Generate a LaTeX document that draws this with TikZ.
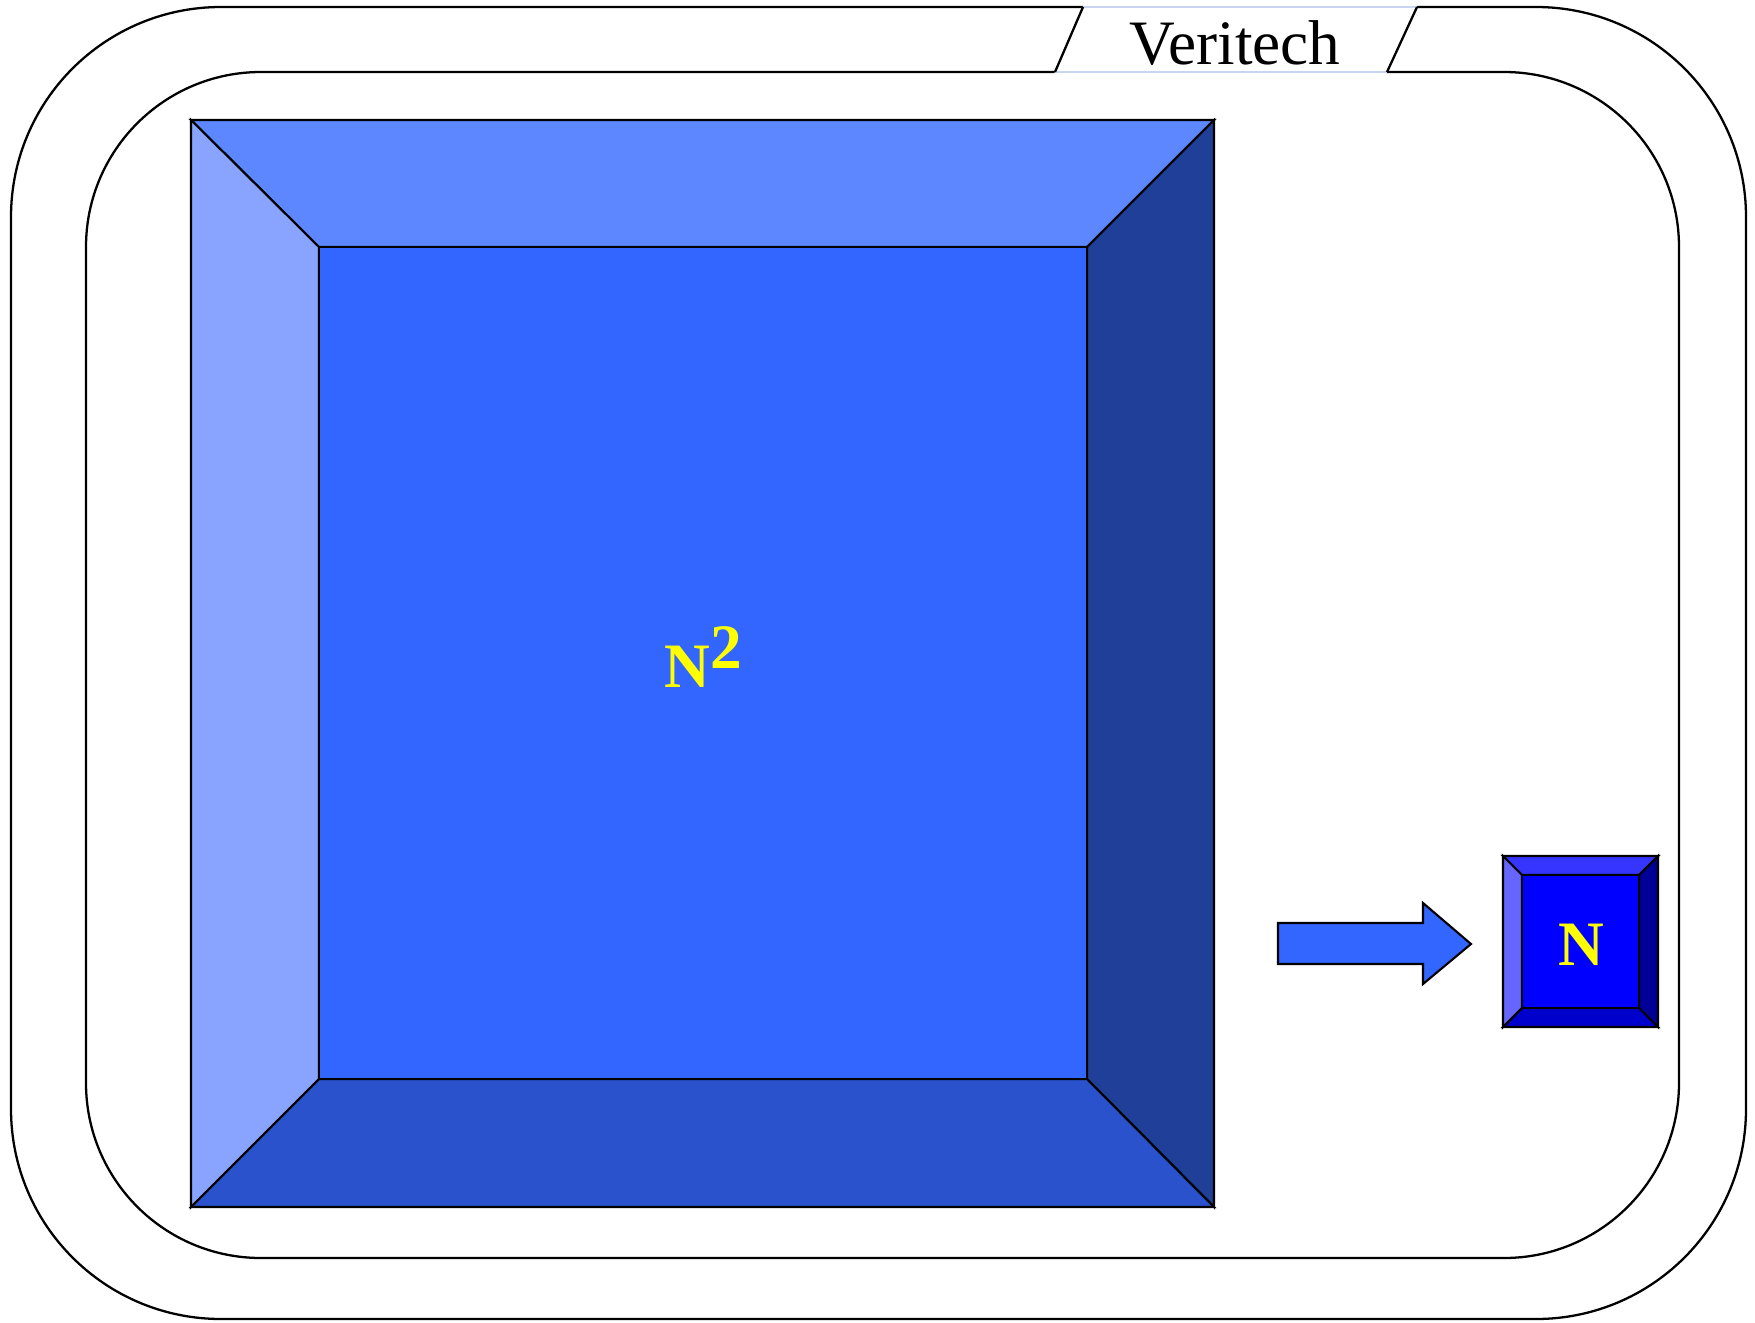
\documentclass[tikz,border=0pt]{standalone}
\usepackage{fontspec}
\setmainfont{Liberation Serif}
\usetikzlibrary{calc}
\definecolor{bigfront}{HTML}{3366FF}
\definecolor{bigtop}{HTML}{5C87FF}
\definecolor{bigleft}{HTML}{88A4FF}
\definecolor{bigright}{HTML}{1F3F99}
\definecolor{bigbottom}{HTML}{2952CC}
\definecolor{smallfront}{HTML}{0000FF}
\definecolor{smalltop}{HTML}{3535FF}
\definecolor{smallleft}{HTML}{6666FF}
\definecolor{smallright}{HTML}{000099}
\definecolor{smallbottom}{HTML}{0000CC}
\definecolor{label}{HTML}{FFFF00}
\definecolor{tabline}{HTML}{C8D4F0}
\tikzset{
  frame/.style={draw=black,line width=0.65pt},
  face/.style={draw=black,line width=0.6pt,line join=miter},
  biglabel/.style={font=\fontsize{18}{20}\selectfont\bfseries,text=label,anchor=base,inner sep=0pt},
  tabtext/.style={font=\fontsize{18}{20}\selectfont,anchor=base,inner sep=0pt},
}

\begin{document}
\begin{tikzpicture}[x=1cm,y=1cm]
\useasboundingbox (0,0) rectangle (17.55,-13.22);

% Frames
\draw[frame,rounded corners=21mm] (0.11,-0.07) rectangle (17.46,-13.19);
\draw[frame,rounded corners=17.5mm] (0.86,-0.72) rectangle (16.79,-12.58);

% Title tab
\coordinate (tabNW) at (10.84,-0.04);
\coordinate (tabNE) at (14.18,-0.04);
\coordinate (tabSE) at (13.86,-0.74);
\coordinate (tabSW) at (10.54,-0.74);
\fill[white] (tabNW) -- (tabNE) -- (tabSE) -- (tabSW) -- cycle;
\draw[tabline,line width=0.4pt] (10.83,-0.07) -- (14.17,-0.07);
\draw[tabline,line width=0.4pt] (10.55,-0.72) -- (13.87,-0.72);
\draw[frame] (10.83,-0.07) -- (10.55,-0.72);
\draw[frame] (14.17,-0.07) -- (13.87,-0.72);
\node[tabtext] (title) at (12.35,-0.65) {Veritech};

% Big bevelled square
\coordinate (bigNW) at (1.91,-1.20);
\coordinate (bigNE) at (12.14,-1.20);
\coordinate (bigSE) at (12.14,-12.07);
\coordinate (bigSW) at (1.91,-12.07);
\coordinate (inNW) at (3.19,-2.47);
\coordinate (inNE) at (10.87,-2.47);
\coordinate (inSE) at (10.87,-10.79);
\coordinate (inSW) at (3.19,-10.79);
\filldraw[face,fill=bigtop] (bigNW) -- (bigNE) -- (inNE) -- (inNW) -- cycle;
\filldraw[face,fill=bigleft] (bigNW) -- (inNW) -- (inSW) -- (bigSW) -- cycle;
\filldraw[face,fill=bigright] (bigNE) -- (bigSE) -- (inSE) -- (inNE) -- cycle;
\filldraw[face,fill=bigbottom] (bigSW) -- (inSW) -- (inSE) -- (bigSE) -- cycle;
\filldraw[face,fill=bigfront] (inNW) rectangle (inSE);
\node[biglabel] (nsq) at (7.03,-6.87) {N\raisebox{5.4pt}{2}};

% Block arrow
\filldraw[face,fill=bigfront] (12.78,-9.23) -- (14.23,-9.23) -- (14.23,-9.03) -- (14.71,-9.44)
  -- (14.23,-9.84) -- (14.23,-9.64) -- (12.78,-9.64) -- cycle;

% Small bevelled square
\coordinate (smNW) at (15.03,-8.56);
\coordinate (smNE) at (16.58,-8.56);
\coordinate (smSE) at (16.58,-10.27);
\coordinate (smSW) at (15.03,-10.27);
\coordinate (siNW) at (15.22,-8.75);
\coordinate (siNE) at (16.39,-8.75);
\coordinate (siSE) at (16.39,-10.08);
\coordinate (siSW) at (15.22,-10.08);
\filldraw[face,fill=smalltop] (smNW) -- (smNE) -- (siNE) -- (siNW) -- cycle;
\filldraw[face,fill=smallleft] (smNW) -- (siNW) -- (siSW) -- (smSW) -- cycle;
\filldraw[face,fill=smallright] (smNE) -- (smSE) -- (siSE) -- (siNE) -- cycle;
\filldraw[face,fill=smallbottom] (smSW) -- (siSW) -- (siSE) -- (smSE) -- cycle;
\filldraw[face,fill=smallfront] (siNW) rectangle (siSE);
\node[biglabel] (nlin) at (15.81,-9.65) {N};

\end{tikzpicture}
\end{document}
